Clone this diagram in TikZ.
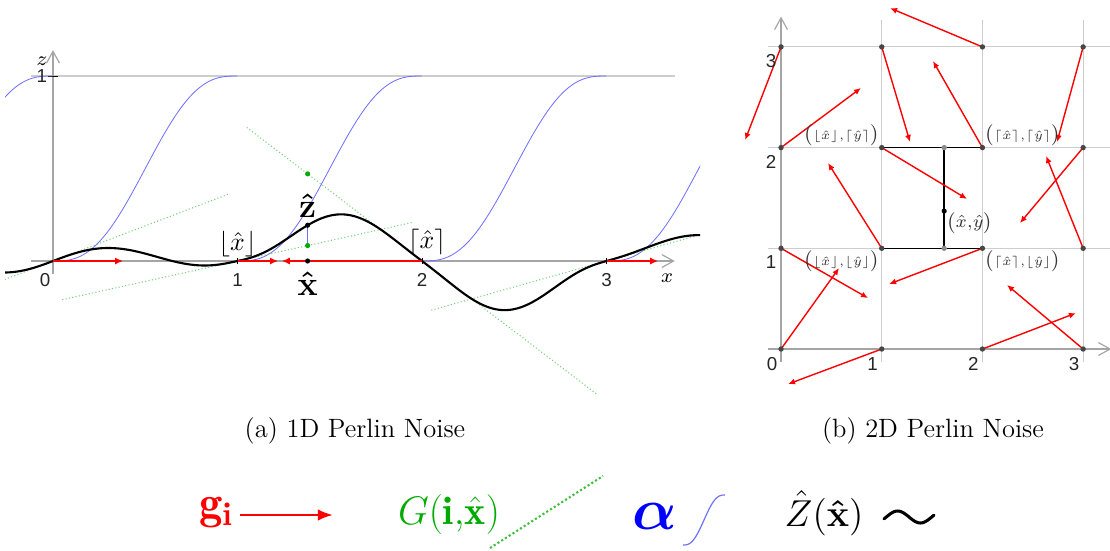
\RequirePackage{fix-cm}
\documentclass[tikz,border=0pt]{standalone}
\usepackage{amsmath}
\usepackage{fontspec}
\newfontfamily\axisfont{Liberation Sans}
\usetikzlibrary{arrows.meta, positioning, calc}

\definecolor{gradred}{RGB}{255,0,0}
\definecolor{dotgreen}{RGB}{0,170,0}
\definecolor{alphablue}{RGB}{110,110,255}
\definecolor{gridgray}{RGB}{205,205,205}
\definecolor{axisgray}{RGB}{165,165,165}
\definecolor{pointgray}{RGB}{70,70,70}

\begin{document}
\begin{tikzpicture}[
        x=0.15mm, y=-0.15mm,
        declare function={alph(\t)=\t*\t*\t*(\t*(6*\t-15)+10);},
        axisline/.style={draw=axisgray, line width=0.5pt, -{Straight Barb[length=5pt,width=5.5pt]}},
        gridline/.style={draw=gridgray, line width=0.45pt},
        numlabel/.style={font=\axisfont\fontsize{8}{9}\selectfont, inner sep=0pt, text=black!85},
        noise/.style={line width=0.9pt, black, line cap=round},
        fadeline/.style={alphablue, line width=0.35pt},
        gradline/.style={dotgreen!55, densely dotted, line width=0.45pt},
        gradarrow/.style={gradred, line width=0.8pt, -{Latex[length=3.4pt,width=3pt]}},
        smallarrow/.style={gradred, line width=0.6pt, -{Latex[length=3pt,width=2.6pt]}},
        greendot/.style={circle, fill=dotgreen, inner sep=0pt, minimum size=2.2pt},
        blackdot/.style={circle, fill=black, inner sep=0pt, minimum size=2.2pt},
        lattice/.style={circle, fill=pointgray, inner sep=0pt, minimum size=2.3pt},
        midpoint/.style={circle, fill=black!45, inner sep=0pt, minimum size=2.3pt},
        cellline/.style={black, line width=0.6pt},
        corner/.style={font=\fontsize{7.5}{9}\selectfont, inner sep=0.6pt, text=black!80},
        caption/.style={font=\fontsize{11.3}{13.6}\selectfont}
    ]
    \useasboundingbox (0,0) rectangle (1110,550);

    % (a) 1D noise
    \begin{scope}[shift={(0.795cm,-3.915cm)}, x=2.7675cm, y=2.775cm]
        \draw[gridline] (-0.12,1) -- (3.37,1);
        \draw[axisline] (-0.12,0) -- (3.37,0);
        \draw[axisline] (0,-0.07) -- (0,1.14);
        \foreach \i in {1,2,3}
            \draw[line width=0.4pt] (\i,-0.016) -- (\i,0.016);
        \draw[line width=0.4pt] (-0.025,1) -- (0.025,1);

        \begin{scope}
            \clip (-0.26,-0.75) rectangle (3.507,1.2);
            \foreach \i/\lo/\hi in {-1/-0.27/0, 0/0/1, 1/1/2, 2/2/3, 3/3/3.52}
                \draw[fadeline] plot[domain=\lo:\hi, samples=40, smooth] (\x, {alph(\x-(\i))});
            \foreach \i/\g in {0/0.38, 1/0.22, 2/-0.76, 3/0.28}
                \draw[gradline] ({\i-0.95}, {-0.95*(\g)}) -- ({\i+0.95}, {0.95*(\g)});
            \foreach \i/\ga/\gb/\lo/\hi in {-1/0.3/0.38/-0.27/0, 0/0.38/0.22/0/1, 1/0.22/-0.76/1/2, 2/-0.76/0.28/2/3, 3/0.28/-0.28/3/3.52}
                \draw[noise] plot[domain=\lo:\hi, samples=40, smooth]
                    (\x, {(\ga)*(\x-(\i)) + alph(\x-(\i))*((\gb)*(\x-(\i)-1) - (\ga)*(\x-(\i)))});
        \end{scope}

        \foreach \i/\g in {0/0.38, 1/0.22, 2/-0.76, 3/0.28} {
            \coordinate (k\i) at (\i,0);
            \draw[gradarrow] (k\i) -- ++(\g,0);
        }

        \pgfmathsetmacro\xh{1.38}
        \pgfmathsetmacro\Ga{0.22*(\xh-1)}
        \pgfmathsetmacro\Gb{-0.76*(\xh-2)}
        \pgfmathsetmacro\Zh{\Ga+alph(\xh-1)*(\Gb-\Ga)}
        \node[greendot] (glo) at (\xh,\Ga) {};
        \node[greendot] (ghi) at (\xh,\Gb) {};
        \draw[fadeline] (glo) -- (\xh,\Zh);
        \node[blackdot] (zdot) at (\xh,\Zh) {};
        \node[blackdot] (xdot) at (\xh,0) {};
        \node[above=2pt of zdot, inner sep=0pt, font=\fontsize{14.5}{17}\selectfont] (zlabel) {$\boldsymbol{\hat{\mathbf{z}}}$};
        \node[below=3pt of xdot, inner sep=0pt, font=\fontsize{14.5}{17}\selectfont] (xlabel) {$\boldsymbol{\hat{\mathbf{x}}}$};

        \node[font=\fontsize{11}{13}\selectfont] (floorx) at (1.0,0.09) {$\lfloor\hat{x}\rfloor$};
        \node[font=\fontsize{11}{13}\selectfont] (ceilx) at (2.027,0.10) {$\lceil\hat{x}\rceil$};

        \node[numlabel] (n0) at (-0.043,-0.105) {0};
        \foreach \i in {1,2,3}
            \node[numlabel] (n\i) at (\i,-0.105) {\i};
        \node[numlabel] (z1) at (-0.06,1) {1};
        \node[font=\fontsize{8.5}{9}\selectfont, inner sep=0pt] (zname) at (-0.06,1.08) {$z$};
        \node[font=\fontsize{8.5}{9}\selectfont, inner sep=0pt] (xname) at (3.328,-0.092) {$x$};
    \end{scope}

    % (b) 2D noise
    \begin{scope}[shift={(11.715cm,-5.235cm)}, x=1.5105cm, y=1.5105cm]
        \foreach \k in {1,2,3} {
            \draw[gridline] (-0.13,\k) -- (3.27,\k);
            \draw[gridline] (\k,-0.13) -- (\k,3.27);
        }
        \draw[axisline] (-0.13,0) -- (3.28,0);
        \draw[axisline] (0,-0.13) -- (0,3.30);

        \foreach \i in {0,...,3}
            \foreach \j in {0,...,3}
                \coordinate (p\i\j) at (\i,\j);
        \coordinate (q) at (1.62,1.37);
        \coordinate (qt) at (1.62,2);
        \coordinate (qb) at (1.62,1);

        \draw[cellline] (p12) -- (p22);
        \draw[cellline] (p11) -- (p21);
        \draw[cellline] (qt) -- (qb);

        \foreach \i/\j/\dx/\dy in {0/3/-0.357/-0.925, 1/3/0.281/-0.944, 2/3/-0.918/0.386, 3/3/-0.259/-0.944,
                                   0/2/0.794/0.592, 1/2/0.847/-0.510, 2/2/-0.491/0.860, 3/2/-0.627/-0.749,
                                   0/1/0.864/-0.494, 1/1/-0.533/0.847, 2/1/-0.927/-0.355, 3/1/-0.368/0.917,
                                   0/0/0.576/0.804, 1/0/-0.930/-0.348, 2/0/0.929/0.357, 3/0/-0.756/0.636}
            \draw[smallarrow] (p\i\j) -- ++(\dx,\dy);

        \foreach \i in {0,...,3}
            \foreach \j in {0,...,3}
                \node[lattice] (d\i\j) at (p\i\j) {};
        \node[midpoint] (mt) at (qt) {};
        \node[midpoint] (mb) at (qb) {};
        \node[blackdot] (qdot) at (q) {};

        \node[corner, above left] (cfc) at (p12) {$\bigl(\scriptstyle\lfloor\hat{x}\rfloor{,}\lceil\hat{y}\rceil\bigr)$};
        \node[corner, above right] (ccc) at (p22) {$\bigl(\scriptstyle\lceil\hat{x}\rceil{,}\lceil\hat{y}\rceil\bigr)$};
        \node[corner, below left] (cff) at (p11) {$\bigl(\scriptstyle\lfloor\hat{x}\rfloor{,}\lfloor\hat{y}\rfloor\bigr)$};
        \node[corner, below right] (ccf) at (p21) {$\bigl(\scriptstyle\lceil\hat{x}\rceil{,}\lfloor\hat{y}\rfloor\bigr)$};
        \node[corner, below right, font=\fontsize{7.5}{9}\selectfont] (qlabel) at (q) {$\bigl(\hat{x}{,}\hat{y}\bigr)$};

        \foreach \k in {0,...,3}
            \node[numlabel] (bx\k) at ($(p\k0)+(-0.09,-0.15)$) {\k};
        \foreach \k in {1,2,3}
            \node[numlabel] (by\k) at ($(p0\k)+(-0.1,-0.14)$) {\k};
    \end{scope}

    % captions
    \node[caption] (capa) at (355,431) {(a) 1D Perlin Noise};
    \node[caption] (capb) at (933,431) {(b) 2D Perlin Noise};

    % legend
    \node[text=gradred, font=\fontsize{20}{24}\selectfont, inner sep=0pt] (gleg) at (216,513) {$\mathbf{g}_{\mathbf{i}}$};
    \coordinate (garrowstart) at (240,515);
    \coordinate (garrowend) at (333,515);
    \draw[gradred, line width=1.1pt, -{Latex[length=6.5pt,width=5pt]}] (garrowstart) -- (garrowend);

    \node[text=dotgreen, font=\fontsize{17}{20}\selectfont, inner sep=0pt] (Gleg) at (449,515) {$G(\mathbf{i}{,}\hat{\mathbf{x}})$};
    \coordinate (glinea) at (490,548);
    \coordinate (glineb) at (603,476);
    \draw[dotgreen!75, densely dotted, line width=0.9pt] (glinea) -- (glineb);

    \node[text=blue, font=\fontsize{25}{28}\selectfont, inner sep=0pt] (aleg) at (655,516) {$\boldsymbol{\alpha}$};
    \draw[alphablue, line width=0.5pt] plot[domain=0:1, samples=30, smooth] ({683+42*\x}, {545-50*alph(\x)});

    \node[font=\fontsize{16}{19}\selectfont, inner sep=0pt] (Zleg) at (824,513) {$\hat{Z}(\boldsymbol{\hat{\mathbf{x}}})$};
    \draw[line width=1.3pt, line cap=round] plot[domain=0:1, samples=30, smooth] ({884+50*\x}, {517-6*sin(360*(1.1*\x-0.05))});
\end{tikzpicture}
\end{document}
